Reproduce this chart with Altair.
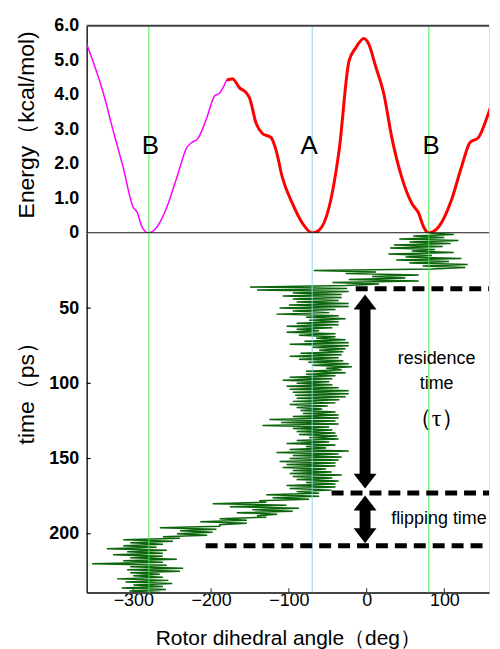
import altair as alt
import pandas as pd

FONT = "Liberation Sans"

# ---------------- energy profile (top panel) ----------------
mag_angle = [-359.6, -338.7, -325.9, -313.1, -300.3, -295.2, -288.8, -280.7, -269.6, -256.8,
             -244.0, -231.2, -224.8, -217.1, -205.6, -195.4, -189.0, -180.0]
mag_energy = [5.45, 4.06, 2.96, 1.90, 0.75, 0.60, 0.17, 0.0, 0.17, 0.75,
              1.61, 2.47, 2.62, 2.73, 3.33, 3.97, 4.05, 4.43]

red_angle = [-180.0, -172.3, -163.4, -154.4, -150.6, -142.0, -134.0, -122.8, -116.4, -108.4,
             -95.6, -82.8, -70.0, -61.0, -48.2, -35.4, -22.6, -14.0, -3.5, 2.9,
             11.5, 22.1, 32.4, 45.2, 58.0, 66.9, 73.3, 79.7, 92.5, 109.1,
             121.9, 133.0, 143.7, 156.5, 165.0, 169.3]
red_energy = [4.43, 4.46, 4.20, 4.05, 3.91, 3.17, 2.88, 2.76, 2.39, 1.61,
              0.86, 0.29, 0.0, 0.08, 0.75, 2.39, 4.98, 5.36, 5.63, 5.46,
              4.83, 4.03, 2.76, 1.61, 0.86, 0.57, 0.17, 0.0, 0.17, 0.95,
              1.90, 2.62, 2.76, 3.45, 3.97, 4.05]

site_angle = [-280, -70, 80]
site_label = ["B", "A", "B"]
site_color = ["#44ee44", "#86d8ea", "#44ee44"]
label_angle = [-278, -74, 83]
label_energy = [2.53, 2.53, 2.53]

energy_ticks = [0, 1, 2, 3, 4, 5, 6]

# ---------------- trajectory (bottom panel) ----------------
traj_B_start = [80, 112, 60, 100, 42, 118, 55, 108, 35, 98, 30, 88, 58, 112, 28, 84, 50,
                122, 38, 106, 55, 130, 72, 127, 84]
traj_flip1 = [-68, 12, -27, 67, 7, 50, -23, 67, -44, 16, -27, -150]
traj_A = [-25, -141, -23, -95, -32, -108, -32, -95, -36, -90, -23, -100, -23, -112, -40, -95,
          -48, -116, -36, -78, -27, -74, -36, -90, -36, -103, -44, -90, -61, -103, -40, -87,
          -40, -65, -27, -80, -23, -99, -23, -70, -27, -61, -30, -85, -32, -99, -36, -87,
          -30, -75, -23, -70, -19, -52, -32, -78, -27, -78, -40, -99, -44, -108, -48, -90,
          -44, -103, -36, -99, -23, -95, -23, -92, -27, -90, -35, -95, -40, -99, -50, -90,
          -57, -85, -40, -82, -36, -95, -36, -125, -40, -110, -36, -134, -48, -95, -44, -90,
          -40, -87, -38, -74, -36, -90, -48, -103, -40, -78, -52, -99, -23, -116, -36, -95,
          -32, -99, -36, -112, -40, -103, -40, -108, -52, -95, -45, -99, -32, -95, -44, -90,
          -36, -78, -40, -103, -40, -99, -45, -90, -61, -129, -61, -121, -74, -138]
traj_flip2 = [-129, -198, -103, -176, -87, -147, -95, -167, -115, -141, -129, -189, -154,
              -214, -154, -189, -189, -266, -193, -240, -198, -244, -205, -262, -240]
traj_B_end = [-313, -249, -304, -262, -313, -270, -334, -257, -308, -262, -326, -262, -304,
              -244, -313, -262, -353, -257, -304, -236, -308, -240, -304, -266, -300, -262,
              -321, -255, -310, -250, -300, -262, -315, -258, -305, -265]

traj_angle = traj_B_start + traj_flip1 + traj_A + traj_flip2 + traj_B_end
traj_time = list(range(len(traj_angle)))

time_ticks = [50, 100, 150, 200]
angle_ticks = [-300, -200, -100, 0, 100]

# annotations
dash_time = [37.2, 172.9, 208.0]
dash_start = [-14, -45, -207]
dash_end = [157.4, 157.4, 157.4]

shaft_angle = [-2, -2]
shaft_t1 = [49, 183]
shaft_t2 = [162, 198]
head_up_t = [41.0, 174.6]
head_down_t = [170.0, 206.3]

note_text = ["residence", "time", "flipping time"]
note_angle = [90, 90, 93]
note_time = [84, 100.6, 190]

# ---------------- scales & axes ----------------
W = 404
H_TOP = 208
H_BOT = 361
xscale = alt.Scale(domain=[-360, 157.4], nice=False, zero=False)
escale = alt.Scale(domain=[0, 6], nice=False, zero=False)
tscale = alt.Scale(domain=[0, 239], nice=False, zero=False, reverse=True)

y_axis_common = dict(ticks=False, grid=False, domain=True, domainColor="#222",
                     domainWidth=1.5, labelFont=FONT, labelFontSize=18,
                     labelFontWeight="bold", labelColor="black", labelPadding=8,
                     labelOverlap=False,
                     titleFont=FONT, titleFontSize=23, titleFontWeight="normal",
                     titleColor="black", titleAlign="center", titleBaseline="alphabetic",
                     titleAngle=270, titleX=-53)

E_AXIS = alt.Axis(values=energy_ticks, title="Energy（kcal/mol)", titleY=99,
                  labelExpr="datum.value == 0 ? '0' : format(datum.value, '.1f')",
                  **y_axis_common)
T_AXIS = alt.Axis(values=time_ticks, title="time（ps）", titleY=155, **y_axis_common)
X_AXIS = alt.Axis(values=angle_ticks, ticks=False, grid=False, domain=True,
                  domainColor="#444", domainWidth=2, labelFont=FONT,
                  labelFontSize=18, labelColor="black", labelPadding=-1,
                  labelFlush=False, labelOverlap=False,
                  title="Rotor dihedral angle（deg）",
                  titleFont=FONT, titleFontSize=21, titleFontWeight="normal",
                  titleColor="black", titlePadding=18)


def xe(field):
    return alt.X(field, type="quantitative", scale=xscale, axis=None)


def ye(field):
    return alt.Y(field, type="quantitative", scale=escale, axis=E_AXIS)


def xb(field):
    return alt.X(field, type="quantitative", scale=xscale, axis=X_AXIS)


def yb(field):
    return alt.Y(field, type="quantitative", scale=tscale, axis=T_AXIS)


mag_df = pd.DataFrame({"angle": mag_angle, "energy": mag_energy})
red_df = pd.DataFrame({"angle": red_angle, "energy": red_energy})
site_df = pd.DataFrame({"angle": site_angle, "label": site_label, "color": site_color})
lab_df = pd.DataFrame({"angle": label_angle, "energy": label_energy, "label": site_label})
traj_df = pd.DataFrame({"t": traj_time, "angle": traj_angle})

# ---------------- top panel ----------------
mag_line = alt.Chart(mag_df).mark_line(color="#ff00ff", strokeWidth=1.5,
                                       interpolate="monotone", clip=True).encode(
    x=xe("angle"), y=ye("energy"))

guides_top = alt.Chart(site_df).mark_rule(strokeWidth=1).encode(
    x=xe("angle"), color=alt.Color("color:N", scale=None))

red_line = alt.Chart(red_df).mark_line(color="#ff0000", strokeWidth=3,
                                       interpolate="monotone", clip=True).encode(
    x=xe("angle"), y=ye("energy"))

top_border = alt.Chart(pd.DataFrame({"energy": [6]})).mark_rule(
    color="#444", strokeWidth=2).encode(y=ye("energy"))
zero_line = alt.Chart(pd.DataFrame({"energy": [0]})).mark_rule(
    color="black", strokeWidth=1.5).encode(y=ye("energy"))

site_text = alt.Chart(lab_df).mark_text(font=FONT, fontSize=26, color="black",
                                        baseline="middle", align="center").encode(
    x=xe("angle"), y=ye("energy"), text="label:N")

top = alt.layer(mag_line, guides_top, red_line, top_border, zero_line, site_text).properties(
    width=W, height=H_TOP)

# ---------------- bottom panel ----------------
traj_line = alt.Chart(traj_df).mark_line(color="#0b650b", strokeWidth=1.5, clip=True).encode(
    x=xb("angle"), y=yb("t"), order=alt.Order("t:Q"))

guides_bot = alt.Chart(site_df).mark_rule(strokeWidth=1).encode(
    x=xb("angle"), color=alt.Color("color:N", scale=None))

ytick_df = pd.DataFrame({"t": time_ticks, "angle": [-360] * 4, "angle2": [-355] * 4})
yticks = alt.Chart(ytick_df).mark_rule(color="black", strokeWidth=1.2).encode(
    x=xb("angle"), x2="angle2:Q", y=yb("t"))
xtick_df = pd.DataFrame({"angle": angle_ticks, "t": [236.2] * 5, "t2": [239] * 5})
xticks = alt.Chart(xtick_df).mark_rule(color="#444", strokeWidth=1.2).encode(
    x=xb("angle"), y=yb("t"), y2="t2:Q")

dash_df = pd.DataFrame({"t": dash_time, "angle": dash_start, "angle2": dash_end})
dashes = alt.Chart(dash_df).mark_rule(color="black", strokeWidth=5, strokeDash=[12, 7]).encode(
    x=xb("angle"), x2="angle2:Q", y=yb("t"))

shaft_df = pd.DataFrame({"angle": shaft_angle, "t": shaft_t1, "t2": shaft_t2})
shafts = alt.Chart(shaft_df).mark_rule(color="black", strokeWidth=11).encode(
    x=xb("angle"), y=yb("t"), y2="t2:Q")

up_df = pd.DataFrame({"angle": shaft_angle, "t": head_up_t})
down_df = pd.DataFrame({"angle": shaft_angle, "t": head_down_t})
heads_up = alt.Chart(up_df).mark_point(shape="M0,0L1,1.3L-1,1.3Z", size=529, filled=True,
                                       color="black", opacity=1, strokeWidth=0).encode(
    x=xb("angle"), y=yb("t"))
heads_down = alt.Chart(down_df).mark_point(shape="M0,0L1,-1.3L-1,-1.3Z", size=529, filled=True,
                                           color="black", opacity=1, strokeWidth=0).encode(
    x=xb("angle"), y=yb("t"))

note_df = pd.DataFrame({"angle": note_angle, "t": note_time, "text": note_text})
notes = alt.Chart(note_df).mark_text(font=FONT, fontSize=18, color="black",
                                     baseline="middle", align="center").encode(
    x=xb("angle"), y=yb("t"), text="text:N")
tau_df = pd.DataFrame({"angle": [90], "t": [123.8], "text": ["（τ）"]})
tau = alt.Chart(tau_df).mark_text(font="Liberation Serif", fontSize=24, color="black",
                                  baseline="middle", align="center").encode(
    x=xb("angle"), y=yb("t"), text="text:N")

bottom = alt.layer(traj_line, guides_bot, yticks, xticks, dashes, shafts, heads_up, heads_down,
                   notes, tau).properties(width=W, height=H_BOT)

chart = alt.vconcat(top, bottom, spacing=0, bounds="flush").properties(
    padding={"left": 7, "top": 6.5, "right": 0, "bottom": 0}
).configure_view(stroke=None).configure(background="white")

chart.save("out.html", embed_options={"renderer": "svg", "actions": False})
